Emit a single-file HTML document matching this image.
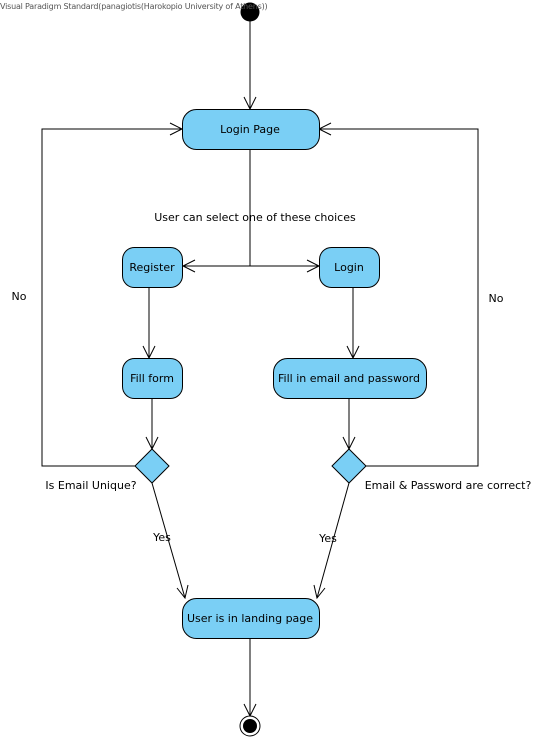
<!DOCTYPE html>
<html><head><style>
body{margin:0;background:#fff;}
svg text{font-family:"DejaVu Sans","Liberation Sans",sans-serif;font-size:11px;fill:#000;}
</style></head><body>
<svg width="546" height="741" viewBox="0 0 546 741" xmlns="http://www.w3.org/2000/svg">
<g stroke="#000" stroke-width="1" fill="none">
<line x1="250" y1="21" x2="250" y2="109"/>
<polyline points="244,97 250,109 256,97"/>
<line x1="250" y1="149" x2="250" y2="266"/>
<line x1="183" y1="266" x2="319" y2="266"/>
<polyline points="195,260 183,266 195,272"/>
<polyline points="307,260 319,266 307,272"/>
<line x1="149" y1="287" x2="149" y2="358"/>
<polyline points="143,346 149,358 155,346"/>
<line x1="353" y1="287" x2="353" y2="358"/>
<polyline points="347,346 353,358 359,346"/>
<line x1="152" y1="398" x2="152" y2="449"/>
<polyline points="146,437 152,449 158,437"/>
<line x1="349" y1="398" x2="349" y2="449"/>
<polyline points="343,437 349,449 355,437"/>
<polyline points="135,466 42,466 42,129 182,129"/>
<polyline points="170,123 182,129 170,135"/>
<polyline points="366,466 478,466 478,129 319,129"/>
<polyline points="331,123 319,129 331,135"/>
<line x1="152" y1="483" x2="185" y2="598"/>
<polyline points="177,588 185,598 188,585"/>
<line x1="349" y1="483" x2="317" y2="598"/>
<polyline points="314,585 317,598 325,588"/>
<line x1="250" y1="638" x2="250" y2="716"/>
<polyline points="244,704 250,716 256,704"/>
</g>
<circle cx="250" cy="12" r="9.5" fill="#000"/>
<g fill="#7acff5" stroke="#000" stroke-width="1">
<rect x="182.5" y="109.5" width="137" height="40" rx="14"/>
<rect x="122.5" y="247.5" width="60" height="40" rx="12"/>
<rect x="319.5" y="247.5" width="60" height="40" rx="12"/>
<rect x="122.5" y="358.5" width="60" height="40" rx="12"/>
<rect x="273.5" y="358.5" width="153" height="40" rx="14"/>
<rect x="182.5" y="598.5" width="137" height="40" rx="14"/>
<polygon points="152,449 169,466 152,483 135,466"/>
<polygon points="349,449 366,466 349,483 332,466"/>
</g>
<circle cx="250" cy="726" r="10" fill="#fff" stroke="#000"/>
<circle cx="250" cy="726" r="7" fill="#000"/>
<text x="0" y="9" style="font-size:8px;fill:#555;letter-spacing:-0.2px">Visual Paradigm Standard(panagiotis(Harokopio University of Athens))</text>
<g text-anchor="middle">
<text x="250" y="133">Login Page</text>
<text x="255" y="221">User can select one of these choices</text>
<text x="152" y="271">Register</text>
<text x="349" y="271">Login</text>
<text x="152" y="382">Fill form</text>
<text x="349" y="382">Fill in email and password</text>
<text x="250" y="622">User is in landing page</text>
<text x="162" y="541">Yes</text>
<text x="328" y="542">Yes</text>
<text x="19" y="300">No</text>
<text x="496" y="302">No</text>
<text x="91" y="489">Is Email Unique?</text>
<text x="448" y="489">Email &amp; Password are correct?</text>
</g>
</svg>
</body></html>
